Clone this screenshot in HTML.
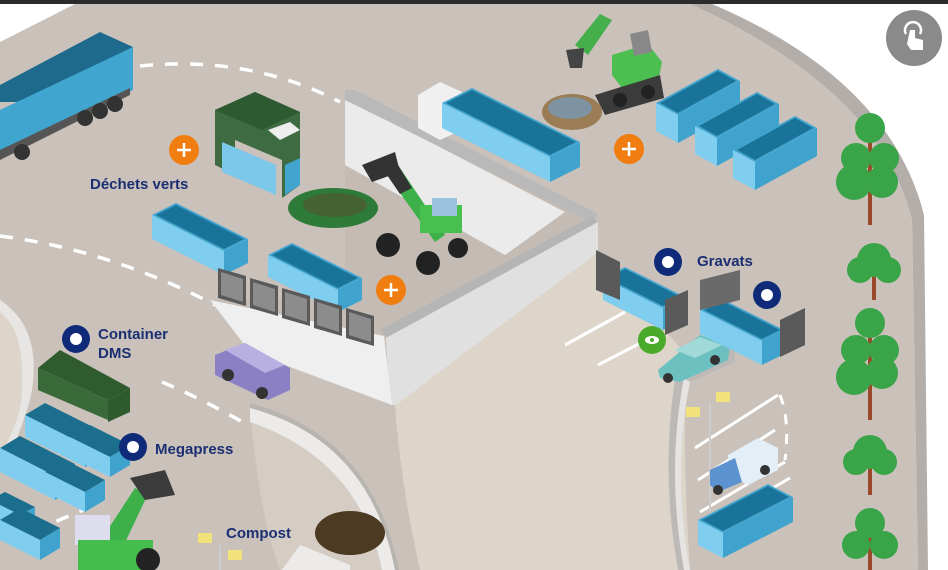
<!DOCTYPE html>
<html><head><meta charset="utf-8"><style>
html,body{margin:0;padding:0;background:#fff;}
svg{display:block}
text{font-family:"Liberation Sans",sans-serif;font-weight:bold;fill:#1b2f72}
</style></head><body>
<svg id="s" width="948" height="570" viewBox="0 0 948 570" xmlns="http://www.w3.org/2000/svg">
<rect width="948" height="570" fill="#fff"/>
<path d="M0,4 L690,4 Q880,90 912,220 L918,570 L0,570 Z" fill="#c9c1ba"/>
<path d="M690,4 Q880,90 912,220 L918,570 L928,570 L924,215 Q890,80 712,4 Z" fill="#b3aeaa"/>
<path d="M0,4 L75,4 L0,42 Z" fill="#fff"/>
<path d="M395,405 L592,250 L640,300 L690,360 Q680,420 690,570 L420,570 Q400,480 395,405 Z" fill="#ddd5ca"/>
<path d="M250,410 Q370,450 395,570 L280,570 Q260,520 250,410 Z" fill="#ddd5ca" opacity="0.6"/>
<path d="M0,300 Q45,330 30,400 Q15,450 0,470 Z" fill="#ddd5ca"/>
<path d="M0,300 Q45,330 30,400 Q15,450 0,470 L0,455 Q22,420 22,390 Q25,330 0,312 Z" fill="#e8e6e4"/>
<path d="M250,408 Q370,440 395,570 L382,570 Q360,460 250,422 Z" fill="#ecebea"/>
<path d="M250,408 Q370,440 395,570 L399,570 Q372,435 250,403 Z" fill="#b8b4b0"/>
<path d="M282,570 L300,545 L350,565 L350,570 Z" fill="#ecebea"/>
<path d="M676,372 L735,345 L735,362 L690,382 Q672,470 690,570 L678,570 Q660,470 676,372 Z" fill="#bdb9b6"/>
<path d="M690,382 Q672,470 690,570 L684,570 Q666,470 684,378 Z" fill="#e6e4e2"/>
<g stroke="#fff" stroke-width="3" fill="none">
<path d="M565,345 L625,312"/><path d="M598,365 L650,338"/>
<path d="M695,448 L778,395"/><path d="M698,480 L775,430"/><path d="M700,512 L785,462"/><path d="M700,530 L790,478"/>
<path d="M780,395 Q790,420 785,460" stroke-dasharray="10 10"/>
</g>
<g stroke="#fff" stroke-width="3.5" fill="none" stroke-dasharray="13 12">
<path d="M140,66 Q250,55 340,102"/>
<path d="M0,236 Q110,250 215,305"/>
<path d="M162,382 Q200,398 248,425"/>
<path d="M10,540 Q60,520 95,505"/>
</g>
<!-- platform -->
<path d="M345,92 L592,215 L592,225 L380,337 L210,300 L345,300 Z" fill="#c4bcb4"/>
<path d="M345,98 L565,212 L505,255 L345,165 Z" fill="#ebebeb"/>
<path d="M345,90 L355,90 L598,214 L592,222 L345,100 Z" fill="#b9b9b9"/>
<path d="M380,330 L592,216 L598,222 L388,338 Z" fill="#b5b5b5"/>
<path d="M386,338 L598,222 L598,252 L396,405 L390,405 Z" fill="#e0e0e0"/>
<path d="M210,300 L384,336 L392,405 L250,352 Z" fill="#efefef"/>
<!-- truck top-left -->
<path d="M0,85 L100,32 L133,47 L25,102 L0,102 Z" fill="#1d6a8c"/>
<path d="M0,110 L133,47 L133,90 L0,158 Z" fill="#41a6cf"/>
<path d="M0,150 L130,88 L130,95 L0,160 Z" fill="#555"/>
<circle cx="85" cy="118" r="8" fill="#333"/><circle cx="100" cy="111" r="8" fill="#333"/><circle cx="115" cy="104" r="8" fill="#333"/><circle cx="22" cy="152" r="8" fill="#333"/>
<!-- shredder -->
<path d="M215,110 L255,92 L300,112 L300,185 L282,198 L282,160 L235,140 L235,175 L215,165 Z" fill="#3e6b42"/>
<path d="M222,142 L276,165 L276,195 L222,172 Z" fill="#7cc8ea"/>
<path d="M285,165 L300,158 L300,185 L285,195 Z" fill="#41a5cf"/>
<path d="M215,110 L255,92 L300,112 L262,130 Z" fill="#2d5a30"/>
<path d="M268,130 L290,122 L300,130 L280,140 Z" fill="#eee"/>
<ellipse cx="333" cy="208" rx="45" ry="20" fill="#2e7a38"/>
<ellipse cx="335" cy="205" rx="32" ry="12" fill="#5a4a30" opacity="0.5"/>
<!-- telehandler center -->
<path d="M385,172 L398,165 L445,235 L435,242 Z" fill="#3eb04a"/>
<path d="M385,172 L398,165 L412,188 L400,194 Z" fill="#333"/>
<path d="M362,165 L395,152 L400,172 L372,182 Z" fill="#333"/>
<rect x="420" y="205" width="42" height="28" fill="#47c04f"/>
<rect x="432" y="198" width="25" height="18" fill="#9cc3de"/>
<circle cx="388" cy="245" r="12" fill="#222"/><circle cx="428" cy="263" r="12" fill="#222"/><circle cx="458" cy="248" r="10" fill="#222"/>
<!-- van -->
<path d="M215,355 L245,343 L290,368 L290,390 L268,400 L215,375 Z" fill="#8b80c4"/>
<path d="M225,350 L245,343 L285,365 L265,373 Z" fill="#b9b0e2"/>
<circle cx="228" cy="375" r="6" fill="#333"/><circle cx="262" cy="393" r="6" fill="#333"/>
<!-- car -->
<path d="M658,370 L700,335 L730,345 L728,360 L680,382 L660,378 Z" fill="#6cc0c0"/>
<path d="M675,350 L700,337 L722,345 L695,358 Z" fill="#9fdad8"/>
<circle cx="668" cy="378" r="5" fill="#333"/><circle cx="715" cy="360" r="5" fill="#333"/>
<path d="M418,95 L440,82 L462,92 L462,130 L440,140 L418,128 Z" fill="#f0f0f0"/>
<!-- excavator -->
<path d="M575,45 L600,14 L612,20 L588,55 Z" fill="#45b04b"/>
<path d="M566,50 L584,48 L582,68 L570,68 Z" fill="#444"/>
<path d="M612,55 L648,44 L662,62 L658,82 L625,92 L612,75 Z" fill="#4cbf50"/>
<path d="M630,34 L648,30 L652,52 L634,56 Z" fill="#888"/>
<path d="M595,95 L660,75 L664,98 L605,115 Z" fill="#3b3b3b"/>
<circle cx="620" cy="100" r="7" fill="#222"/><circle cx="648" cy="92" r="7" fill="#222"/>
<ellipse cx="572" cy="112" rx="30" ry="18" fill="#9a7c55"/>
<ellipse cx="570" cy="108" rx="22" ry="11" fill="#6aa3d6" opacity="0.6"/>
<!-- DMS -->
<path d="M38,368 L60,350 L130,388 L108,400 Z" fill="#2f5b2f"/>
<path d="M38,368 L108,400 L108,420 L38,390 Z" fill="#3a6a3a"/>
<path d="M108,400 L130,388 L130,412 L108,422 Z" fill="#2e5a2e"/>
<g id="mp"></g>
<ellipse cx="350" cy="533" rx="35" ry="22" fill="#4c3a22"/>
<!-- left telehandler -->
<path d="M88,560 L135,488 L148,494 L112,570 Z" fill="#3eb04a"/>
<path d="M130,478 L165,470 L175,495 L145,500 Z" fill="#3b3b3b"/>
<rect x="75" y="515" width="35" height="30" fill="#dde"/>
<rect x="78" y="540" width="75" height="30" fill="#45bd4d"/>
<circle cx="148" cy="560" r="12" fill="#222"/>
<rect x="198" y="533" width="14" height="10" fill="#f2e27a"/><rect x="228" y="550" width="14" height="10" fill="#f2e27a"/><rect x="219" y="545" width="2" height="25" fill="#ccc"/>
<rect x="686" y="407" width="14" height="10" fill="#f2e27a"/><rect x="716" y="392" width="14" height="10" fill="#f2e27a"/><rect x="709" y="402" width="2" height="110" fill="#ccc"/>
<path d="M728,455 L758,438 L778,448 L778,470 L748,485 L728,475 Z" fill="#e4eef6"/>
<path d="M710,470 L735,458 L742,482 L718,492 L710,485 Z" fill="#5b92cf"/>
<circle cx="718" cy="490" r="5" fill="#333"/><circle cx="765" cy="470" r="5" fill="#333"/>
<g id="boxes"></g>
<g id="trees"></g>
<g fill="#f07d10"><circle cx="184" cy="150" r="15"/><circle cx="391" cy="290" r="15"/><circle cx="629" cy="149" r="15"/></g>
<g stroke="#fff" stroke-width="2.5"><path d="M177,150h14M184,143v14M384,290h14M391,283v14M622,149h14M629,142v14"/></g>
<g fill="#0e2a78"><circle cx="76" cy="339" r="14"/><circle cx="133" cy="447" r="14"/><circle cx="668" cy="262" r="14"/><circle cx="767" cy="295" r="14"/></g>
<g fill="#fff"><circle cx="76" cy="339" r="6"/><circle cx="133" cy="447" r="6"/><circle cx="668" cy="262" r="6"/><circle cx="767" cy="295" r="6"/></g>
<circle cx="652" cy="340" r="14" fill="#4aaa2a"/><ellipse cx="652" cy="340" rx="7" ry="4" fill="#fff"/><circle cx="652" cy="340" r="2" fill="#4aaa2a"/>
<circle cx="914" cy="38" r="28" fill="#8a8a8a"/>
<path d="M906,34 a8,8 0 1 1 14,0" stroke="#fff" stroke-width="2.5" fill="none"/>
<path d="M910,30 h5 v8 l8,2 v10 h-12 l-4,-6 Z" fill="#fff"/>
<text x="90" y="189" font-size="15">Déchets verts</text>
<text x="98" y="339" font-size="15">Container</text>
<text x="98" y="358" font-size="15">DMS</text>
<text x="155" y="454" font-size="15">Megapress</text>
<text x="226" y="538" font-size="15">Compost</text>
<text x="697" y="266" font-size="15">Gravats</text>
<rect x="0" y="0" width="948" height="4" fill="#2b2b2b"/>
</svg>
<script>
var NS="http://www.w3.org/2000/svg";
function P(g,pts,f){var p=document.createElementNS(NS,"polygon");p.setAttribute("points",pts.map(function(a){return a[0]+","+a[1]}).join(" "));p.setAttribute("fill",f);g.appendChild(p);}
function add(a,b){return[a[0]+b[0],a[1]+b[1]];}
function box(g,A,u,v,H,closed){var B=add(A,u),C=add(B,v),D=add(A,v);var h=[0,H];
P(g,[A,B,C,D],closed?"#1c6e8e":"#41a5cf");
if(!closed){var t=4;P(g,[add(A,[t,0]),add(B,[0,-t/2]),add(C,[-t,0]),add(D,[0,t/2])],"#1a7399");}
P(g,[A,B,add(B,h),add(A,h)],"#7fcdef");P(g,[B,C,add(C,h),add(B,h)],"#3fa3cd");}
var g=document.getElementById("boxes");
box(g,[152,215],[72,36],[24,-12],24);
box(g,[268,255],[70,35],[24,-12],22);
box(g,[442,103],[108,54],[30,-15],25);
box(g,[656,103],[22,12],[62,-34],28);
box(g,[695,126],[22,12],[62,-34],28);
box(g,[733,150],[22,12],[62,-34],28);
box(g,[698,520],[25,13],[70,-36],25);
box(g,[603,278],[60,30],[22,-11],22);
box(g,[700,310],[62,31],[22,-11],24);
for(var i=0;i<5;i++){var x=218+i*32,y=268+i*10;P(g,[[x,y],[x+28,y+8],[x+28,y+38],[x,y+30]],"#5a5a5a");P(g,[[x+3,y+4],[x+25,y+11],[x+25,y+34],[x+3,y+27]],"#8c8c8c");}
P(g,[[596,250],[620,262],[620,300],[596,290]],"#5a5a5a");P(g,[[665,300],[688,290],[688,325],[665,335]],"#5a5a5a");
P(g,[[700,280],[740,270],[740,300],[700,310]],"#6a6a6a");P(g,[[780,320],[805,308],[805,345],[780,357]],"#5a5a5a");
var m=document.getElementById("mp");
box(m,[25,415],[60,30],[20,-12],22,true);box(m,[70,437],[40,20],[20,-12],20,true);
box(m,[0,448],[55,28],[20,-12],24,true);box(m,[45,472],[40,20],[20,-12],20,true);
box(m,[-10,500],[30,15],[15,-8],20,true);box(m,[0,520],[40,20],[20,-12],20,true);
var t=document.getElementById("trees");
function tree(x,y,h,rs){var r=document.createElementNS(NS,"rect");r.setAttribute("x",x-2);r.setAttribute("y",y);r.setAttribute("width",4);r.setAttribute("height",h);r.setAttribute("fill","#9a4a2a");t.appendChild(r);
rs.forEach(function(c){var e=document.createElementNS(NS,"circle");e.setAttribute("cx",x+c[0]);e.setAttribute("cy",y+c[1]);e.setAttribute("r",c[2]);e.setAttribute("fill","#3aa449");t.appendChild(e);});}
tree(870,120,105,[[0,8,15],[-14,38,15],[14,38,15],[-16,62,18],[12,62,16]]);
tree(874,248,52,[[0,12,17],[-14,22,13],[14,22,13]]);
tree(870,315,105,[[0,8,15],[-14,35,15],[14,35,15],[-16,62,18],[12,58,16]]);
tree(870,440,55,[[0,12,17],[-14,22,13],[14,22,13]]);
tree(870,515,60,[[0,8,15],[-14,30,14],[14,30,14]]);
</script>
</body></html>
